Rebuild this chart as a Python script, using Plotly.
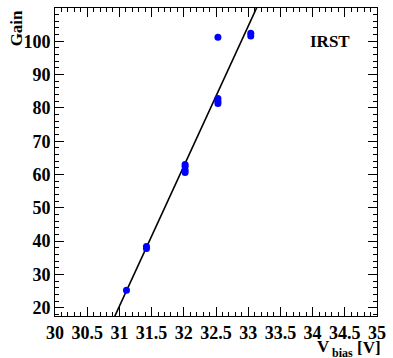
import plotly.graph_objects as go

# Measured gain versus bias voltage
v_bias = [31.11, 31.42, 31.42, 32.02, 32.02, 32.02, 32.02, 32.53, 32.53, 32.53, 32.53, 33.04, 33.04]
gain = [25.2, 37.8, 38.4, 60.6, 61.3, 62.4, 63.0, 81.3, 82.0, 82.8, 101.2, 101.6, 102.4]

# Linear fit: gain = slope * (V - v0) + g0
fit_slope = 42.05
fit_v0 = 30.93
fit_g0 = 17.5
fit_v = [30.7, 33.4]
fit_gain = [fit_g0 + fit_slope * (v - fit_v0) for v in fit_v]

x_range = [30, 35]
y_range = [17.5, 110]
x_ticks = [30, 30.5, 31, 31.5, 32, 32.5, 33, 33.5, 34, 34.5, 35]
y_ticks = [20, 30, 40, 50, 60, 70, 80, 90, 100]

font_family = "Liberation Serif"

fig = go.Figure()
fig.add_trace(go.Scatter(x=fit_v, y=fit_gain, mode="lines",
                         line=dict(color="black", width=1.6), hoverinfo="skip"))
fig.add_trace(go.Scatter(x=v_bias, y=gain, mode="markers",
                         marker=dict(color="#0000ff", size=7, line=dict(width=0))))

axis_common = dict(
    showgrid=False, zeroline=False, showline=True, linecolor="black", linewidth=1,
    mirror="allticks", ticks="inside", ticklen=9, tickwidth=1, tickcolor="black",
    tickfont=dict(family=font_family, size=18, color="black"),
)

fig.update_xaxes(range=x_range, tickvals=x_ticks, ticktext=[f"<b>{t:g}</b>" for t in x_ticks],
                 minor=dict(ticks="inside", ticklen=4, dtick=0.1, tickcolor="black", tickwidth=1),
                 **axis_common)
fig.update_yaxes(range=y_range, tickvals=y_ticks, ticktext=[f"<b>{t}</b>" for t in y_ticks],
                 minor=dict(ticks="inside", ticklen=4, dtick=2, tickcolor="black", tickwidth=1),
                 ticklabelstandoff=0,
                 **axis_common)

label_font = dict(family=font_family, size=17, color="black")

fig.add_annotation(text="<b>Gain</b>", xref="paper", yref="paper", x=-0.12, y=1.0,
                   xanchor="center", yanchor="top", textangle=-90, showarrow=False,
                   font=label_font)
# x-axis title: V with subscript "bias", then the unit
fig.add_annotation(text="<b>V</b>", xref="paper", yref="paper", x=0.857, y=-0.099,
                   xanchor="right", yanchor="middle", showarrow=False, borderpad=0,
                   font=label_font)
fig.add_annotation(text="<b>bias</b>", xref="paper", yref="paper", x=0.856, y=-0.119,
                   xanchor="left", yanchor="middle", showarrow=False, borderpad=0,
                   font=dict(family=font_family, size=12, color="black"))
fig.add_annotation(text="<b>[V]</b>", xref="paper", yref="paper", x=1.014, y=-0.101,
                   xanchor="right", yanchor="middle", showarrow=False, borderpad=0,
                   font=label_font)
fig.add_annotation(text="<b>IRST</b>", xref="paper", yref="paper", x=0.855, y=0.89,
                   xanchor="center", yanchor="middle", showarrow=False,
                   font=label_font)

fig.update_layout(
    width=393, height=358,
    margin=dict(l=55, r=11, t=7, b=42),
    paper_bgcolor="white", plot_bgcolor="white",
    showlegend=False,
)

fig.write_html("out.html")
